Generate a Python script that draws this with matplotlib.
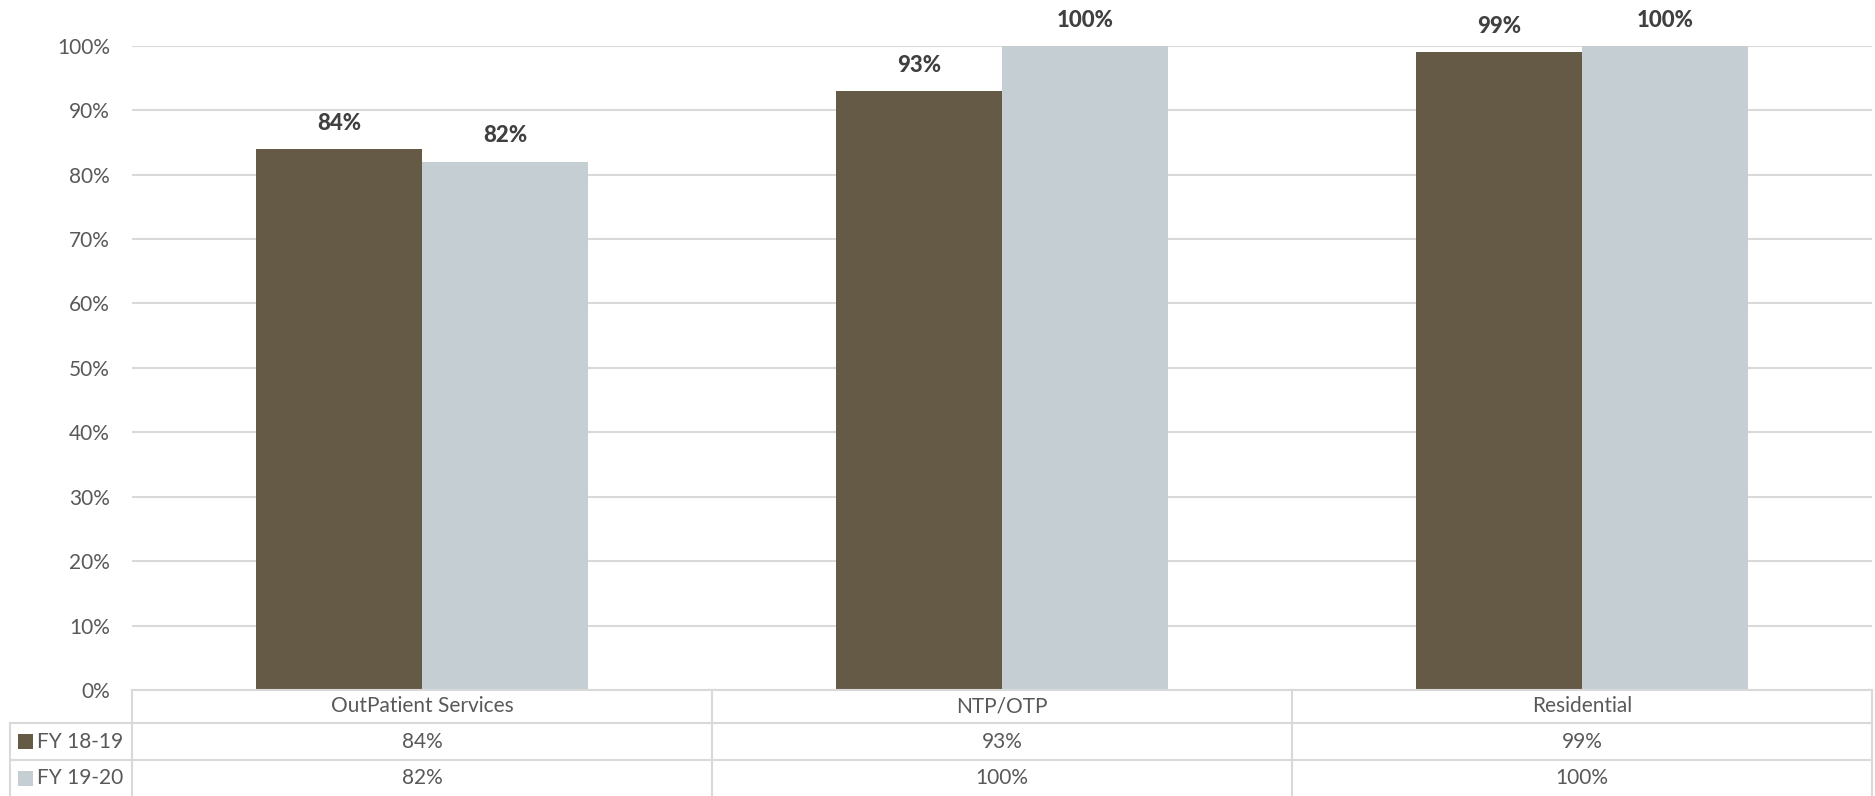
import matplotlib
matplotlib.use("Agg")
import matplotlib.pyplot as plt
from matplotlib.patches import Rectangle

# Data
categories = ["OutPatient Services", "NTP/OTP", "Residential"]
series_names = ["FY 18-19", "FY 19-20"]
fy1819 = [84, 93, 99]
fy1920 = [82, 100, 100]
yticks = list(range(0, 101, 10))

colors = ["#655A46", "#C4CED3"]
grid_c = "#D9D9D9"
tick_c = "#595959"
label_c = "#404040"

plt.rcParams["font.family"] = ["Lato", "DejaVu Sans"]

W, H = 1875, 796
fig = plt.figure(figsize=(W / 100, H / 100), dpi=100)


def fx(px):
    return px / W


def fy(py):
    return 1 - py / H


left_px, right_px = 132, 1872
top_px, base_px = 45.7, 690
col_px = (right_px - left_px) / len(categories)

ax = fig.add_axes([fx(left_px), fy(base_px), fx(right_px) - fx(left_px), fy(top_px) - fy(base_px)])
ax.set_xlim(-0.5, len(categories) - 0.5)
ax.set_ylim(0, 100)
ax.set_yticks(yticks)
ax.set_yticklabels([f"{t}%" for t in yticks])
ax.tick_params(axis="y", length=0, pad=16, labelsize=15, labelcolor=tick_c)
ax.set_xticks([])
for s in ax.spines.values():
    s.set_visible(False)
ax.grid(axis="y", color=grid_c, linewidth=1.5)
ax.set_axisbelow(True)

bw = 0.286
xs = list(range(len(categories)))
for off, vals, c in [(-bw / 2, fy1819, colors[0]), (bw / 2, fy1920, colors[1])]:
    ax.bar([x + off for x in xs], vals, width=bw, color=c, zorder=2)
    for x, v in zip(xs, vals):
        ax.annotate(f"{v}%", (x + off, v), xytext=(0, 18.5), textcoords="offset points",
                    ha="center", va="center", fontsize=16, fontweight="black",
                    color=label_c, clip_on=False, annotation_clip=False)

# Data table below the plot
tax = fig.add_axes([fx(left_px), 0, fx(right_px) - fx(left_px), fy(base_px)])
tax.set_xlim(-0.5, len(categories) - 0.5)
tax.set_ylim(H - base_px, 0)
tax.axis("off")


def px2x(px):
    return -0.5 + (px - left_px) / col_px


row_edges = [0, 33, 70, 106]
lab_left = px2x(10)
lw = 1.5
tax.plot([-0.5, len(categories) - 0.5], [row_edges[0]] * 2, color=grid_c, lw=lw, clip_on=False)
for r in row_edges[1:3]:
    tax.plot([lab_left, len(categories) - 0.5], [r, r], color=grid_c, lw=lw, clip_on=False)
for i in range(len(categories) + 1):
    tax.plot([i - 0.5, i - 0.5], [row_edges[0], row_edges[-1]], color=grid_c, lw=lw, clip_on=False)
tax.plot([lab_left, lab_left], [row_edges[1], row_edges[-1]], color=grid_c, lw=lw, clip_on=False)

hdr_y = (row_edges[0] + row_edges[1]) / 2
for x, cat in zip(xs, categories):
    tax.text(x, hdr_y, cat, ha="center", va="center", fontsize=15, color=tick_c)

for ri, (name, vals, c) in enumerate(zip(series_names, [fy1819, fy1920], colors)):
    yc = (row_edges[ri + 1] + row_edges[ri + 2]) / 2
    tax.add_patch(Rectangle((px2x(18), yc - 7.5), px2x(33) - px2x(18), 15,
                            facecolor=c, edgecolor="none", clip_on=False))
    tax.text(px2x(37), yc, name, ha="left", va="center", fontsize=15, color=tick_c, clip_on=False)
    for x, v in zip(xs, vals):
        tax.text(x, yc, f"{v}%", ha="center", va="center", fontsize=15, color=tick_c)

fig.savefig("out.png", dpi=100, facecolor="white")
